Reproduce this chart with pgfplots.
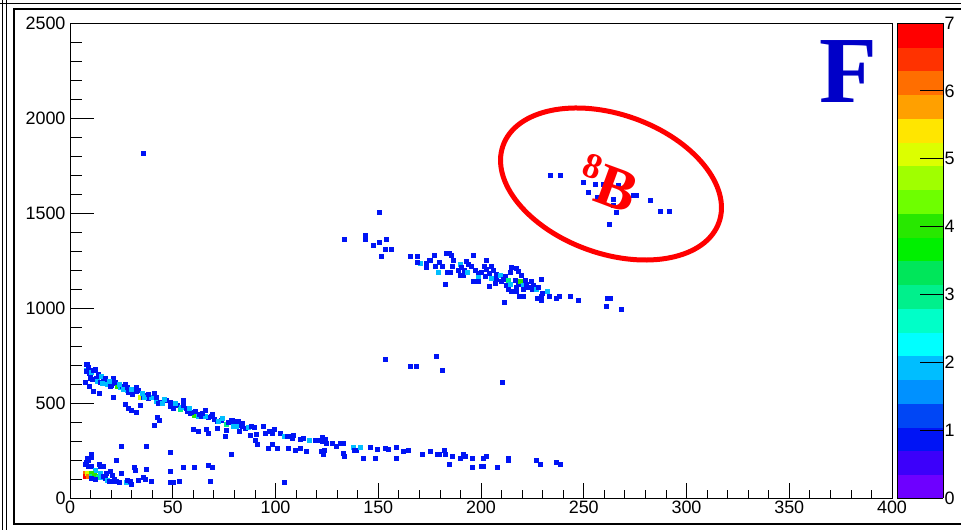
\documentclass[border=0pt]{standalone}
\usepackage{pgfplots}
\pgfplotsset{compat=1.18}
\usepackage{pgfplotstable}
\usepackage{fontspec}
\setmainfont{Liberation Sans}
\newfontfamily\serifb{Liberation Serif}
\pgfplotstableread{
x y c
7.8 703 1
8.4 703 1
7.8 674 2
8.1 665 1
9.2 656 1
10.0 647 1
12.2 679 1
9.7 633 1
11.0 626 1
12.7 630 1
13.3 616 2
14.6 609 1
16.2 621 1
17.5 612 1
18.2 598 2
19.5 586 1
21.1 630 1
21.4 603 1
23.0 591 4
24.3 581 2
25.6 591 1
26.8 598 1
27.9 568 2
29.2 563 1
30.5 546 1
32.4 581 1
32.1 560 1
34.1 533 5
35.4 528 1
37.0 539 1
38.1 525 1
39.3 528 2
40.9 549 1
41.8 507 2
43.0 498 1
44.1 504 1
47.0 516 1
48.7 481 1
50.3 475 1
52.2 486 1
53.5 468 3
55.2 516 1
56.4 475 1
57.1 458 1
58.7 446 1
60.3 437 4
62.4 433 2
64.0 428 1
65.7 463 1
67.3 423 1
68.9 428 1
71.4 402 1
73.8 411 1
75.9 390 3
78.2 409 1
79.8 381 1
81.9 384 1
10.5 660 2
15.5 605 2
20.0 595 1
26.0 575 2
28.5 555 1
36.0 530 2
45.0 500 2
50.0 488 1
54.0 478 2
59.0 450 1
63.0 440 1
66.0 432 2
70.0 415 1
72.0 405 2
77.0 398 1
9.0 690 1
11.5 670 1
13.5 650 1
15.0 640 2
17.0 628 1
19.0 615 2
22.0 610 1
24.0 600 2
28.0 585 1
30.0 575 2
33.0 565 1
35.0 550 2
38.0 545 1
42.0 530 1
46.0 520 2
49.0 505 1
51.0 498 2
55.0 490 1
58.0 470 2
61.0 455 1
64.5 445 1
69.0 440 1
74.0 420 2
80.0 400 1
84.0 378 1
7.3 612 1
9.4 591 1
11.4 563 1
14.3 551 1
21.1 528 1
27.1 493 1
28.4 475 1
30.0 463 1
32.1 454 1
34.4 486 1
42.2 423 1
43.5 409 1
41.0 381 1
60.0 363 1
62.4 349 1
66.2 363 1
67.3 339 1
71.4 370 1
75.4 323 1
76.2 358 1
78.7 411 1
79.5 402 1
81.9 402 1
83.6 393 1
79.5 379 2
81.1 379 2
85.2 367 1
86.8 375 2
88.4 379 1
89.6 375 1
82.4 349 1
87.6 332 1
90.6 337 1
94.1 379 1
94.9 340 1
97.0 354 1
98.2 340 1
99.3 361 1
102.2 340 1
104.2 323 2
105.5 323 1
107.1 326 1
108.7 332 1
107.9 314 1
112.0 309 1
113.6 314 1
90.1 302 1
90.9 284 1
96.6 262 1
98.2 284 1
100.6 262 1
106.3 262 1
109.5 253 1
112.0 262 1
114.9 244 1
116.5 302 2
119.3 302 1
120.9 302 1
122.5 297 1
122.5 319 1
124.1 309 1
124.6 291 1
127.4 291 1
129.5 274 1
131.4 288 1
133.1 288 1
122.0 244 1
123.0 232 1
123.6 253 1
133.1 235 1
133.4 218 1
137.6 270 2
138.2 253 1
139.5 253 1
141.2 270 2
142.5 209 1
146.0 270 1
148.5 209 1
149.6 256 1
153.3 261 1
154.9 256 1
158.5 270 1
158.5 209 1
162.2 244 1
164.7 253 1
171.6 232 1
175.2 244 1
178.5 232 1
179.8 232 1
182.0 253 1
182.5 232 1
184.6 179 1
185.8 218 1
190.1 209 1
191.4 232 1
192.3 221 1
195.5 209 1
195.5 161 1
199.9 168 1
200.9 168 1
200.9 209 1
202.5 221 1
207.7 160 1
213.3 209 1
213.3 200 1
227.1 200 1
228.8 179 1
236.5 191 1
238.5 179 1
25.1 274 1
37.3 274 1
49.0 242 1
78.3 232 1
8.4 209 1
8.9 200 1
10.1 232 1
10.5 214 1
7.3 179 1
8.1 186 1
8.9 168 1
10.1 165 1
12.2 147 2
14.3 179 1
14.6 165 1
16.2 168 1
17.8 130 1
19.8 139 1
20.3 121 1
22.7 200 1
25.1 130 1
31.1 161 1
31.6 144 1
37.3 151 1
48.7 139 1
55.2 161 1
60.3 161 1
67.3 172 1
69.4 161 1
7.3 130 6
7.3 116 7
8.4 130 5
8.9 116 6
10.1 130 4
10.5 116 3
11.7 121 4
13.0 116 4
13.8 109 3
14.6 130 2
15.4 109 2
16.2 116 1
17.0 104 1
18.2 95 2
19.1 86 1
20.3 86 1
21.4 98 1
22.7 86 1
24.0 81 1
27.3 81 2
27.9 95 1
29.2 91 1
30.0 74 1
33.3 95 1
35.4 112 1
36.5 98 1
39.7 91 1
48.7 81 1
50.0 81 1
53.2 91 1
68.1 91 1
10.1 104 1
12.2 98 1
104.0 84 1
153.3 731 1
165.4 695 1
168.4 695 1
178.4 744 1
181.3 674 1
210.4 609 1
35.5 1816 1
150.4 1505 1
133.3 1363 1
143.5 1384 1
143.5 1363 1
147.3 1333 1
150.5 1344 1
154.1 1363 1
153.3 1311 1
156.5 1311 1
151.6 1270 1
165.4 1270 1
169.0 1270 1
170.3 1235 2
169.0 1240 1
173.5 1235 1
173.5 1214 1
174.8 1253 1
175.5 1253 1
177.1 1279 1
177.6 1221 1
179.7 1240 1
181.3 1221 1
179.2 1191 2
183.0 1291 1
184.6 1288 1
185.7 1279 1
186.5 1249 1
183.6 1191 1
185.2 1191 1
186.2 1218 1
182.5 1125 1
189.0 1197 1
190.1 1232 2
190.6 1214 1
191.7 1200 1
192.7 1244 1
193.8 1232 1
189.8 1174 1
191.4 1174 1
193.3 1186 2
195.4 1221 1
196.3 1279 1
197.1 1200 1
198.7 1182 1
200.3 1186 1
198.7 1161 2
196.3 1139 1
198.7 1139 1
202.4 1253 1
201.4 1221 1
202.7 1204 1
201.9 1165 1
204.0 1182 1
205.2 1218 1
206.0 1200 1
205.2 1156 2
207.3 1179 1
207.6 1151 1
206.8 1130 1
209.2 1174 2
210.0 1139 1
210.9 1151 1
204.0 1116 1
211.7 1165 1
213.3 1144 3
212.5 1121 1
214.4 1126 2
214.9 1214 1
214.4 1186 1
216.5 1147 1
217.3 1209 1
218.1 1196 1
217.3 1112 1
218.1 1126 1
219.3 1139 4
219.8 1174 1
220.3 1121 2
220.6 1098 1
221.4 1147 1
221.9 1126 1
213.3 1098 1
214.9 1086 1
217.0 1086 1
218.6 1063 1
220.6 1063 1
211.2 1033 1
223.0 1109 1
224.6 1139 1
225.4 1121 1
225.1 1098 1
227.1 1098 2
227.9 1109 1
229.5 1151 1
230.0 1077 1
229.5 1060 1
227.4 1051 1
229.5 1042 1
232.3 1089 2
233.2 1063 1
236.5 1051 1
238.1 1060 1
243.6 1060 1
247.3 1042 1
261.5 1051 1
262.8 1051 1
261.1 1011 1
268.4 993 1
233.9 1700 1
238.4 1700 1
249.5 1661 1
255.5 1653 1
259.5 1653 1
252.2 1612 1
256.6 1583 1
264.4 1572 1
264.1 1542 1
265.7 1502 1
262.4 1442 1
266.8 1647 1
274.1 1595 1
275.4 1595 1
282.5 1565 1
287.4 1512 1
291.6 1511 1
}\pts
\begin{document}
\begin{tikzpicture}
\path[use as bounding box] (0,0) rectangle (961bp,530bp);
\fill[white] (0,0) rectangle (961bp,530bp);
\draw[line width=0.9bp] (2.7bp,0) -- (2.7bp,530bp);
\draw[line width=0.9bp] (6.7bp,0) -- (6.7bp,530bp);
\draw[line width=0.9bp] (0,527bp) -- (961bp,527bp);
\draw[line width=1.8bp] (961bp,521bp) -- (14bp,521bp) -- (14bp,6bp) -- (961bp,6bp);
\begin{axis}[
  at={(70bp,32bp)}, anchor=south west,
  scale only axis, width=822bp, height=475bp,
  xmin=0, xmax=400, ymin=0, ymax=2500,
  xtick={0,50,...,400}, minor x tick num=4,
  ytick={0,500,...,2500}, minor y tick num=4,
  xtick pos=left, ytick pos=left,
  tick align=inside,
  xtick style={/pgfplots/major tick length=15bp, /pgfplots/minor tick length=7.5bp, black, line width=0.8bp},
  ytick style={/pgfplots/major tick length=24bp, /pgfplots/minor tick length=12bp, black, line width=0.8bp},
  axis line style={black, line width=0.8bp},
  /pgf/number format/assume math mode=true,
  /pgf/number format/set thousands separator={},
  tick label style={font=\fontsize{18}{20}\selectfont},
  yticklabel style={xshift=-1bp},
  xticklabel style={yshift=1bp},
  point meta min=0, point meta max=7,
  colormap access=piecewise constant,
  colormap={rootpal}{rgb255=(110,0,255) rgb255=(60,0,250) rgb255=(0,20,245) rgb255=(0,70,245)
    rgb255=(0,145,255) rgb255=(0,190,255) rgb255=(0,255,255) rgb255=(0,255,200)
    rgb255=(0,240,140) rgb255=(0,230,90) rgb255=(0,240,0) rgb255=(40,232,0)
    rgb255=(110,255,0) rgb255=(160,255,0) rgb255=(220,255,0) rgb255=(255,230,0)
    rgb255=(255,160,0) rgb255=(255,110,0) rgb255=(255,50,0) rgb255=(255,0,0)},
  colorbar sampled,
  colorbar shift/.style={xshift=5bp},
  colorbar style={
    scale only axis, width=46bp, height=475bp, samples=21,
    at={(parent axis.south east)}, anchor=south west,
    ytick={0,1,...,7}, minor y tick num=0,
    ytick pos=right, yticklabel pos=right,
    tick align=inside,
    ytick style={/pgfplots/major tick length=23bp, black, line width=0.8bp},
    axis line style={black, line width=0.8bp},
    /pgf/number format/assume math mode=true,
    yticklabel style={font=\fontsize{18}{20}\selectfont, xshift=-2bp},
  },
]
\addplot[scatter, only marks, mark=square*, mark size=2bp,
  scatter/use mapped color={draw=mapped color, fill=mapped color},
  point meta=explicit] table[x=x, y=y, meta=c] {\pts};
\end{axis}
\draw[red, line width=5bp, rotate around={-19.6:(611bp,346bp)}] (611bp,346bp) ellipse [x radius=114.6bp, y radius=69.6bp];
\node[red, rotate=-20, font={\serifb\bfseries\fontsize{60}{60}\selectfont}, inner sep=0pt] at (609bp,347bp) {\raisebox{21bp}{\fontsize{36}{36}\selectfont 8}\hspace{2bp}B};
\node[color={rgb,255:red,0;green,0;blue,200}, font={\serifb\bfseries\fontsize{95}{95}\selectfont}] at (848bp,458bp) {F};
\end{tikzpicture}
\end{document}
